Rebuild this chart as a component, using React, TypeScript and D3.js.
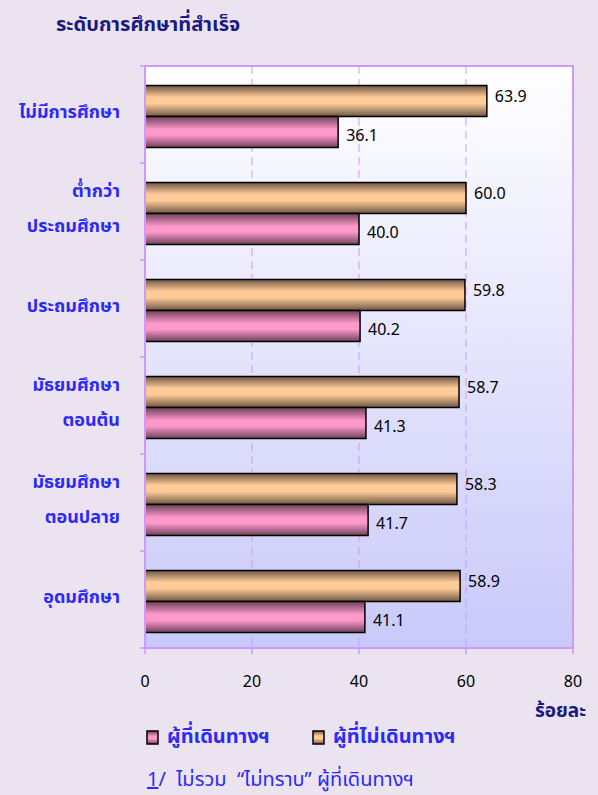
import React from "react";
import * as d3 from "d3";

const categories: string[][] = [
  ["ไม่มีการศึกษา"],
  ["ต่ำกว่า", "ประถมศึกษา"],
  ["ประถมศึกษา"],
  ["มัธยมศึกษา", "ตอนต้น"],
  ["มัธยมศึกษา", "ตอนปลาย"],
  ["อุดมศึกษา"],
];
const travelers = [36.1, 40.0, 40.2, 41.3, 41.7, 41.1];
const nonTravelers = [63.9, 60.0, 59.8, 58.7, 58.3, 58.9];
const xTicks = [0, 20, 40, 60, 80];
const seriesNames = ["ผู้ที่เดินทางฯ", "ผู้ที่ไม่เดินทางฯ"];

const W = 598;
const H = 795;
const left = 145;
const right = 573;
const top = 66;
const bottom = 648;
const FONT = "Tahoma, 'Noto Sans Thai', 'DejaVu Sans', sans-serif";

export default function App() {
  const x = d3.scaleLinear().domain([0, 80]).range([left, right]);
  const y = d3
    .scaleBand<number>()
    .domain(d3.range(categories.length))
    .range([top, bottom])
    .paddingInner(0)
    .paddingOuter(0);
  const bw = y.bandwidth();
  const barH = 31;
  const offset = (bw - 2 * barH) / 2 + 2;

  return (
    <svg
      width={W}
      height={H}
      style={{ position: "absolute", left: 0, top: 0, display: "block" }}
      fontFamily={FONT}
    >
      <defs>
        <linearGradient id="plotBg" x1="0" y1="0" x2="0" y2="1">
          <stop offset="0" stopColor="#FFFFFF" />
          <stop offset="1" stopColor="#C9C9FA" />
        </linearGradient>
        <linearGradient id="gOrange" x1="0" y1="0" x2="0" y2="1">
          <stop offset="0" stopColor="#6E5644" />
          <stop offset="0.38" stopColor="#FFCC99" />
          <stop offset="0.58" stopColor="#FFCC99" />
          <stop offset="1" stopColor="#6E5644" />
        </linearGradient>
        <linearGradient id="gPink" x1="0" y1="0" x2="0" y2="1">
          <stop offset="0" stopColor="#6E425A" />
          <stop offset="0.42" stopColor="#FF99CC" />
          <stop offset="0.6" stopColor="#FF99CC" />
          <stop offset="1" stopColor="#6E425A" />
        </linearGradient>
      </defs>
      <rect x={0} y={0} width={W} height={H} fill="#EBE3F0" />
      <text x={56} y={25} fontSize={20} fontWeight="bold" fill="#1A1A80" dominantBaseline="middle">
        ระดับการศึกษาที่สำเร็จ
      </text>

      <rect x={left} y={top} width={right - left} height={bottom - top} fill="url(#plotBg)" />

      {xTicks.slice(1, -1).map((t) => (
        <line
          key={"g" + t}
          x1={x(t)}
          x2={x(t)}
          y1={top}
          y2={bottom}
          stroke="#CC99FF"
          strokeWidth={1}
          strokeDasharray="8,5"
        />
      ))}

      {categories.map((c, i) => {
        const y0 = (y(i) as number) + offset;
        return (
          <g key={i}>
            <rect
              x={x(0)}
              y={y0}
              width={x(nonTravelers[i]) - x(0)}
              height={barH}
              fill="url(#gOrange)"
              stroke="#000"
              strokeWidth={1.5}
            />
            <rect
              x={x(0)}
              y={y0 + barH}
              width={x(travelers[i]) - x(0)}
              height={barH}
              fill="url(#gPink)"
              stroke="#000"
              strokeWidth={1.5}
            />
            <text
              x={x(nonTravelers[i]) + 8}
              y={y0 + barH / 2 - 3}
              fontSize={16}
              fill="#000"
              dominantBaseline="middle"
            >
              {nonTravelers[i].toFixed(1)}
            </text>
            <text
              x={x(travelers[i]) + 8}
              y={y0 + barH + barH / 2 + 5}
              fontSize={16}
              fill="#000"
              dominantBaseline="middle"
            >
              {travelers[i].toFixed(1)}
            </text>
            {c.map((line, k) => (
              <text
                key={k}
                x={120}
                y={(y(i) as number) + bw / 2 + (k - (c.length - 1) / 2) * 35 - 2}
                textAnchor="end"
                dominantBaseline="middle"
                fontSize={18}
                fontWeight="bold"
                fill="#2B2BF5"
              >
                {line}
              </text>
            ))}
          </g>
        );
      })}

      <rect
        x={left}
        y={top}
        width={right - left}
        height={bottom - top}
        fill="none"
        stroke="#CC99FF"
        strokeWidth={2}
      />
      {d3.range(categories.length + 1).map((i) => {
        const yy = top + i * bw;
        return <line key={"yt" + i} x1={left - 5} x2={left} y1={yy} y2={yy} stroke="#CC99FF" strokeWidth={1.5} />;
      })}
      {xTicks.map((t) => (
        <g key={"xt" + t}>
          <line x1={x(t)} x2={x(t)} y1={bottom} y2={bottom + 6} stroke="#CC99FF" strokeWidth={1.5} />
          <text x={x(t)} y={683} textAnchor="middle" dominantBaseline="middle" fontSize={16} fill="#000">
            {t}
          </text>
        </g>
      ))}
      <text x={586} y={712} textAnchor="end" dominantBaseline="middle" fontSize={19} fontWeight="bold" fill="#1A1A80">
        ร้อยละ
      </text>

      <rect x={147} y={731} width={11} height={13} fill="url(#gPink)" stroke="#000" strokeWidth={1.5} />
      <text x={167} y={737} dominantBaseline="middle" fontSize={20} fontWeight="bold" fill="#2B2BF5">
        {seriesNames[0]}
      </text>
      <rect x={313} y={731} width={11} height={13} fill="url(#gOrange)" stroke="#000" strokeWidth={1.5} />
      <text x={333} y={737} dominantBaseline="middle" fontSize={20} fontWeight="bold" fill="#2B2BF5">
        {seriesNames[1]}
      </text>

      <text x={147} y={780} dominantBaseline="middle" fontSize={20} fill="#2B2BF5">
        <tspan textDecoration="underline">1</tspan>
        <tspan>{"/\u00A0\u00A0ไม่รวม\u00A0\u00A0“ไม่ทราบ”\u00A0ผู้ที่เดินทางฯ"}</tspan>
      </text>
    </svg>
  );
}
